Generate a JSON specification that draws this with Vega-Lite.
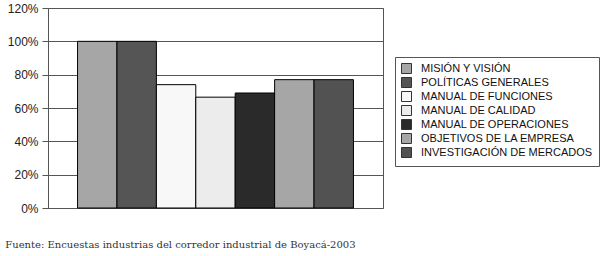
{
  "$schema": "https://vega.github.io/schema/vega-lite/v6.json",
  "width": 335,
  "height": 200,
  "autosize": {"type": "none"},
  "padding": {"left": 48, "top": 8, "right": 220, "bottom": 48},
  "background": "white",
  "config": {
    "view": {"stroke": "#555555", "strokeWidth": 1},
    "font": "Liberation Sans"
  },
  "title": {
    "text": "Fuente: Encuestas industrias del corredor industrial de  Boyacá-2003",
    "orient": "bottom",
    "anchor": "start",
    "frame": "bounds",
    "font": "DejaVu Serif",
    "fontSize": 10,
    "fontWeight": "normal",
    "color": "#333333",
    "offset": 26,
    "dx": -2
  },
  "data": {
    "values": [
      {"categoria": "MISIÓN Y VISIÓN", "valor": 100},
      {"categoria": "POLÍTICAS GENERALES", "valor": 100},
      {"categoria": "MANUAL DE FUNCIONES", "valor": 74},
      {"categoria": "MANUAL DE CALIDAD", "valor": 66.5},
      {"categoria": "MANUAL DE OPERACIONES", "valor": 69},
      {"categoria": "OBJETIVOS DE LA EMPRESA", "valor": 77},
      {"categoria": "INVESTIGACIÓN DE MERCADOS", "valor": 77}
    ]
  },
  "mark": {"type": "bar", "stroke": "black", "strokeWidth": 1},
  "encoding": {
    "x": {
      "field": "categoria",
      "type": "nominal",
      "sort": null,
      "scale": {"paddingInner": 0, "paddingOuter": 0.75},
      "axis": {"title": null, "labels": false, "ticks": false, "domain": false}
    },
    "y": {
      "field": "valor",
      "type": "quantitative",
      "scale": {"domain": [0, 120]},
      "axis": {
        "title": null,
        "values": [0, 20, 40, 60, 80, 100, 120],
        "labelExpr": "datum.value + '%'",
        "labelFontSize": 12,
        "labelColor": "#222222",
        "labelPadding": 4,
        "tickSize": 6,
        "tickColor": "#555555",
        "domain": false,
        "grid": true,
        "gridColor": "#555555",
        "gridOpacity": 1
      }
    },
    "color": {
      "field": "categoria",
      "type": "nominal",
      "sort": null,
      "scale": {
        "domain": ["MISIÓN Y VISIÓN", "POLÍTICAS GENERALES", "MANUAL DE FUNCIONES", "MANUAL DE CALIDAD", "MANUAL DE OPERACIONES", "OBJETIVOS DE LA EMPRESA", "INVESTIGACIÓN DE MERCADOS"],
        "range": ["#a6a6a6", "#555555", "#f8f8f8", "#ececec", "#2a2a2a", "#a6a6a6", "#525252"]
      },
      "legend": {
        "title": null,
        "orient": "none",
        "legendX": 347,
        "legendY": 49,
        "strokeColor": "#555555",
        "fillColor": "white",
        "padding": 6,
        "symbolType": "square",
        "symbolSize": 100,
        "symbolStrokeColor": "#333333",
        "symbolStrokeWidth": 1,
        "labelFontSize": 11,
        "labelColor": "#111111",
        "labelOffset": 9,
        "labelLimit": 300,
        "rowPadding": -1
      }
    }
  }
}
